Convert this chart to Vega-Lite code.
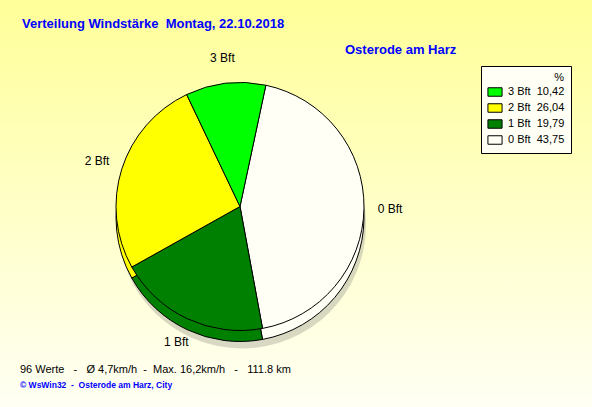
{
  "$schema": "https://vega.github.io/schema/vega-lite/v6.json",
  "width": 592,
  "height": 407,
  "autosize": {"type": "fit", "contains": "padding"},
  "padding": 0,
  "background": "#ffff99",
  "config": {"view": {"stroke": null}, "font": "Liberation Sans"},
  "datasets": {
    "wind": [
      {"bft": "0 Bft", "pct": 43.75, "label": "0 Bft\u00a0\u00a043,75", "order": 0},
      {"bft": "1 Bft", "pct": 19.79, "label": "1 Bft\u00a0\u00a019,79", "order": 1},
      {"bft": "2 Bft", "pct": 26.04, "label": "2 Bft\u00a0\u00a026,04", "order": 2},
      {"bft": "3 Bft", "pct": 10.42, "label": "3 Bft\u00a0\u00a010,42", "order": 3}
    ]
  },
  "layer": [
    {
      "data": {"values": [{}]},
      "mark": {
        "type": "rect",
        "fill": {
          "gradient": "linear", "x1": 0, "y1": 0, "x2": 0, "y2": 1,
          "stops": [{"offset": 0, "color": "#ffff99"}, {"offset": 1, "color": "#fffff4"}]
        }
      },
      "encoding": {}
    },
    {
      "data": {"values": [{}]},
      "mark": {"type": "arc", "radius": 124, "fill": "#b8b8a8", "opacity": 0.55, "xOffset": -54, "yOffset": 21},
      "encoding": {}
    },
    {
      "data": {"name": "wind"},
      "mark": {"type": "arc", "radius": 124, "stroke": "#000000", "strokeWidth": 1, "xOffset": -56, "yOffset": 14},
      "encoding": {
        "theta": {"field": "pct", "type": "quantitative", "stack": true, "scale": {"range": [0.21, 6.4932]}},
        "order": {"field": "order", "type": "quantitative"},
        "color": {
          "field": "label",
          "type": "nominal",
          "scale": {
            "domain": ["3 Bft\u00a0\u00a010,42", "2 Bft\u00a0\u00a026,04", "1 Bft\u00a0\u00a019,79", "0 Bft\u00a0\u00a043,75"],
            "range": ["#00ff00", "#ffff00", "#008000", "#fffff5"]
          },
          "legend": {
            "orient": "none",
            "legendX": 481,
            "legendY": 66,
            "title": "%",
            "titleFontSize": 11,
            "titleFontWeight": "normal",
            "titleColor": "#000000",
            "titleAnchor": "end",
            "titleAlign": "right",
            "titlePadding": 1,
            "fillColor": "#fffff5",
            "strokeColor": "#000000",
            "padding": 6,
            "symbolType": "M-1,-0.6H1V0.6H-1Z",
            "symbolSize": 200,
            "symbolStrokeColor": "#000000",
            "symbolStrokeWidth": 1,
            "symbolOpacity": 1,
            "labelFontSize": 11,
            "labelColor": "#000000",
            "labelOffset": 5,
            "rowPadding": 1
          }
        }
      }
    },
    {
      "data": {"name": "wind"},
      "mark": {"type": "arc", "radius": 124, "stroke": "#000000", "strokeWidth": 1, "xOffset": -56, "yOffset": 3},
      "encoding": {
        "theta": {"field": "pct", "type": "quantitative", "stack": true},
        "order": {"field": "order", "type": "quantitative"},
        "color": {"field": "label", "type": "nominal"}
      }
    },
    {
      "data": {"name": "wind"},
      "mark": {"type": "text", "radius": 150, "fontSize": 12, "color": "#000000", "xOffset": -56, "yOffset": 3},
      "encoding": {
        "theta": {"field": "pct", "type": "quantitative", "stack": true},
        "order": {"field": "order", "type": "quantitative"},
        "text": {"field": "bft", "type": "nominal"}
      }
    },
    {
      "data": {"values": [{"t": "Verteilung Windstärke\u00a0\u00a0Montag, 22.10.2018"}]},
      "mark": {"type": "text", "x": 22, "y": 28, "align": "left", "baseline": "alphabetic", "fontSize": 13, "fontWeight": "bold", "color": "#0000ff"},
      "encoding": {"text": {"field": "t", "type": "nominal"}}
    },
    {
      "data": {"values": [{"t": "Osterode am Harz"}]},
      "mark": {"type": "text", "x": 345, "y": 54, "align": "left", "baseline": "alphabetic", "fontSize": 13, "fontWeight": "bold", "color": "#0000ff"},
      "encoding": {"text": {"field": "t", "type": "nominal"}}
    },
    {
      "data": {"values": [{"t": "96 Werte\u00a0\u00a0\u00a0-\u00a0\u00a0\u00a0Ø 4,7km/h\u00a0\u00a0-\u00a0\u00a0Max. 16,2km/h\u00a0\u00a0\u00a0-\u00a0\u00a0\u00a0111.8 km"}]},
      "mark": {"type": "text", "x": 20, "y": 373, "align": "left", "baseline": "alphabetic", "fontSize": 11, "color": "#000000"},
      "encoding": {"text": {"field": "t", "type": "nominal"}}
    },
    {
      "data": {"values": [{"t": "© WsWin32\u00a0\u00a0-\u00a0\u00a0Osterode am Harz, City"}]},
      "mark": {"type": "text", "x": 20, "y": 388, "align": "left", "baseline": "alphabetic", "fontSize": 8.5, "fontWeight": "bold", "color": "#0000ff"},
      "encoding": {"text": {"field": "t", "type": "nominal"}}
    }
  ]
}
